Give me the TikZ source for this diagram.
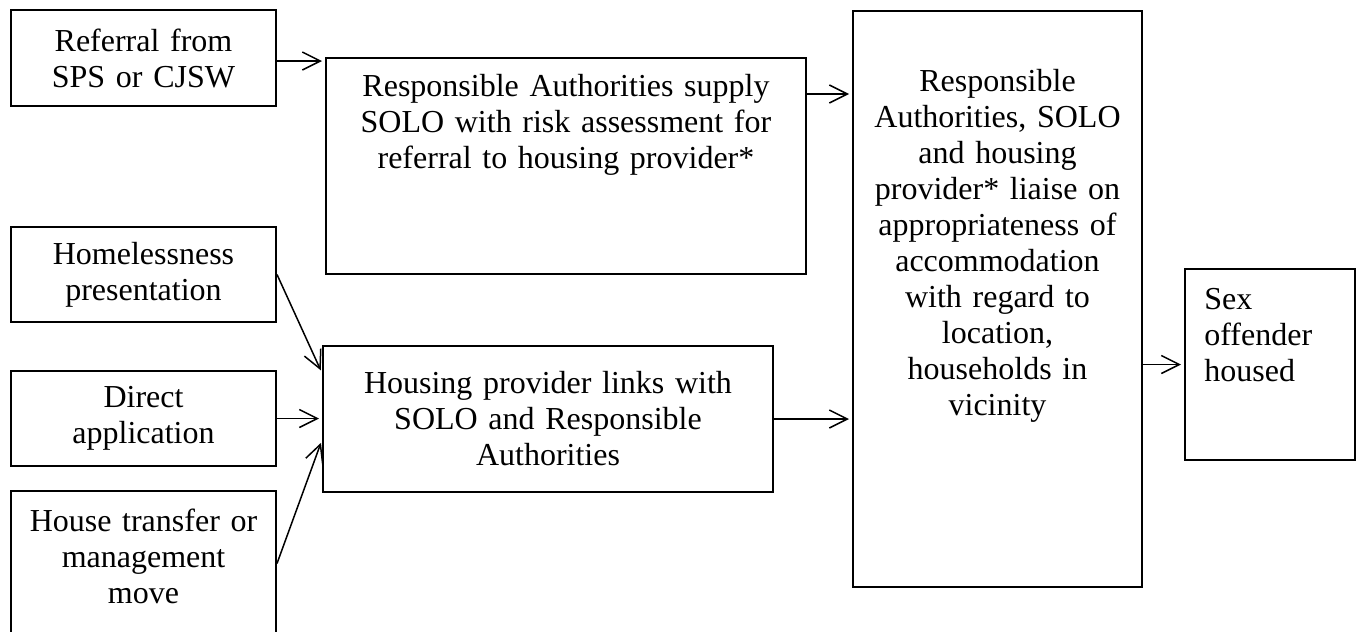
\documentclass[tikz,border=0pt]{standalone}
\usepackage{fontspec}
\setmainfont{Liberation Serif}
\usetikzlibrary{arrows.meta,calc}
\newcommand\mkbox[5]{\node[boxst, minimum width={(#4-#2)*0.5pt}, minimum height={(#5-#3)*0.5pt}] (#1) at ({(#2+#4)/2},{(#3+#5)/2}) {};}
\begin{document}
\begin{tikzpicture}[x=0.5pt,y=-0.5pt,
  boxst/.style={draw, line width=1pt, inner sep=0pt, rectangle},
  txt/.style={inner sep=0pt, font=\fontsize{16pt}{18pt}\selectfont, align=center, text width=#1},
  conn/.style={line width=0.75pt, -{Straight Barb[length=9pt,width=9pt]}, shorten >=1.5pt}]
\useasboundingbox (0,0) rectangle (1362,632);
% boxes
\mkbox{A}{11}{10}{276}{106}
\mkbox{E}{11}{227}{276}{322}
\mkbox{G}{11}{371}{276}{466}
\mkbox{H}{11}{491}{276}{636}
\mkbox{B}{326}{58}{806}{274}
\mkbox{F}{323}{346}{773}{492}
\mkbox{C}{853}{11}{1142}{587}
\mkbox{D}{1185}{269}{1355}{460}
% texts
\node[txt=125pt] (At) at (A.center) {Referral from\\SPS or CJSW};
\node[txt=125pt] (Et) at (E.center) {Homelessness\\presentation};
\node[txt=125pt] (Gt) at (G.center) {Direct\\application};
\node[txt=125pt, anchor=base] (Ht) at ($(H.north)+(0,41)$) {House transfer or\\management\\move};
\node[txt=230pt, anchor=base] (Bt) at ($(B.north)+(0,39)$) {Responsible Authorities supply\\SOLO with risk assessment for\\referral to housing provider*};
\node[txt=210pt] (Ft) at (F.center) {Housing provider links with\\SOLO and Responsible\\Authorities};
\node[txt=140pt, anchor=base] (Ct) at ($(C.north)+(0,81)$) {Responsible\\Authorities, SOLO\\and housing\\provider* liaise on\\appropriateness of\\accommodation\\with regard to\\location,\\households in\\vicinity};
\node[txt=75pt, align=left, anchor=base west] (Dt) at ($(D.north west)+(20,41)$) {Sex\\offender\\housed};
% connectors
\coordinate (a1) at ($(A.east)+(0,3)$);
\draw[conn] (a1) -- (a1 -| B.west);
\coordinate (b1) at ($(B.north east)+(0,37)$);
\draw[conn] (b1) -- (b1 -| C.west);
\coordinate (f1) at ($(F.north west)+(0,28)$);
\coordinate (f2) at ($(F.north west)+(0,95)$);
\draw[conn] (E.east) -- (f1);
\draw[conn] (G.east) -- (G.east -| F.west);
\draw[conn] (H.east) -- (f2);
\draw[conn] (F.east) -- (F.east -| C.west);
\draw[conn] (D.west -| C.east) -- (D.west);
\end{tikzpicture}
\end{document}
